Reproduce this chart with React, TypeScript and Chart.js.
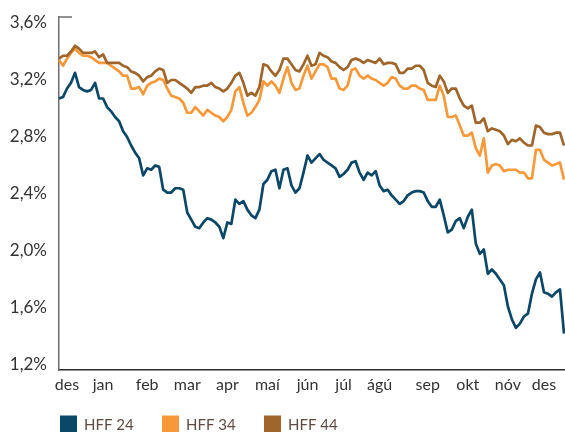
import React, { useEffect, useRef } from 'react';
import { Chart, registerables } from 'chart.js';

Chart.register(...registerables);

const seriesNames = ['HFF 24', 'HFF 34', 'HFF 44'];
const seriesColors = ['#0b4767', '#f7993a', '#a0652b'];

const monthLabels = ['des', 'jan', 'feb', 'mar', 'apr', 'maí', 'jún', 'júl', 'ágú', 'sep', 'okt', 'nóv', 'des'];
const monthIndex = [2, 11, 22, 32, 42, 52, 62, 71, 80, 92, 102, 112, 121];
const yTicks = [1.2, 1.6, 2.0, 2.4, 2.8, 3.2, 3.6];

const hff24 = [
  3.07, 3.08, 3.14, 3.18, 3.25, 3.15, 3.13, 3.12, 3.13, 3.18,
  3.07, 3.07, 3.01, 2.98, 2.94, 2.91, 2.84, 2.80, 2.74, 2.69,
  2.65, 2.53, 2.58, 2.57, 2.60, 2.59, 2.43, 2.41, 2.41, 2.44,
  2.44, 2.43, 2.27, 2.22, 2.17, 2.16, 2.20, 2.23, 2.22, 2.20,
  2.17, 2.09, 2.20, 2.19, 2.36, 2.33, 2.35, 2.29, 2.25, 2.23,
  2.29, 2.47, 2.50, 2.56, 2.57, 2.44, 2.57, 2.58, 2.46, 2.41,
  2.44, 2.55, 2.67, 2.62, 2.65, 2.68, 2.64, 2.62, 2.60, 2.58,
  2.52, 2.54, 2.57, 2.62, 2.63, 2.55, 2.50, 2.55, 2.53, 2.56,
  2.46, 2.42, 2.43, 2.39, 2.36, 2.33, 2.35, 2.39, 2.41, 2.42,
  2.42, 2.41, 2.35, 2.31, 2.31, 2.36, 2.25, 2.13, 2.15, 2.21,
  2.23, 2.16, 2.24, 2.29, 2.05, 1.98, 2.01, 1.84, 1.87, 1.84,
  1.80, 1.76, 1.61, 1.52, 1.46, 1.49, 1.54, 1.56, 1.70, 1.80,
  1.85, 1.71, 1.70, 1.68, 1.71, 1.73, 1.42,
];

const hff34 = [
  3.34, 3.30, 3.35, 3.39, 3.42, 3.39, 3.37, 3.37, 3.36, 3.34,
  3.32, 3.32, 3.32, 3.30, 3.28, 3.26, 3.23, 3.23, 3.14, 3.14,
  3.15, 3.10, 3.16, 3.18, 3.19, 3.21, 3.20, 3.14, 3.09, 3.08,
  3.07, 3.04, 2.97, 2.97, 3.01, 2.98, 2.95, 2.99, 2.97, 2.95,
  2.94, 2.91, 2.94, 2.99, 3.12, 3.15, 3.04, 2.95, 2.97, 3.01,
  3.06, 3.19, 3.16, 3.19, 3.16, 3.11, 3.21, 3.29, 3.18, 3.13,
  3.14, 3.23, 3.30, 3.21, 3.26, 3.31, 3.31, 3.29, 3.21, 3.21,
  3.14, 3.13, 3.16, 3.27, 3.28, 3.23, 3.21, 3.23, 3.21, 3.20,
  3.18, 3.16, 3.18, 3.22, 3.21, 3.16, 3.14, 3.14, 3.16, 3.16,
  3.14, 3.13, 3.06, 3.06, 3.06, 3.16, 3.09, 2.94, 2.94, 2.95,
  2.88, 2.81, 2.81, 2.83, 2.72, 2.67, 2.79, 2.55, 2.60, 2.61,
  2.60, 2.56, 2.57, 2.57, 2.57, 2.55, 2.55, 2.51, 2.51, 2.71,
  2.71, 2.64, 2.62, 2.60, 2.61, 2.62, 2.50,
];

const hff44 = [
  3.35, 3.37, 3.37, 3.40, 3.44, 3.42, 3.39, 3.39, 3.39, 3.40,
  3.36, 3.38, 3.32, 3.32, 3.32, 3.32, 3.30, 3.29, 3.26, 3.25,
  3.23, 3.19, 3.22, 3.23, 3.26, 3.28, 3.27, 3.18, 3.20, 3.20,
  3.18, 3.16, 3.14, 3.11, 3.15, 3.15, 3.16, 3.16, 3.18, 3.15,
  3.14, 3.12, 3.14, 3.18, 3.23, 3.25, 3.18, 3.09, 3.11, 3.09,
  3.15, 3.31, 3.30, 3.26, 3.23, 3.27, 3.35, 3.35, 3.31, 3.27,
  3.26, 3.31, 3.37, 3.30, 3.31, 3.39, 3.37, 3.36, 3.33, 3.32,
  3.29, 3.27, 3.29, 3.34, 3.35, 3.34, 3.32, 3.34, 3.33, 3.32,
  3.35, 3.31, 3.32, 3.32, 3.31, 3.25, 3.25, 3.28, 3.28, 3.30,
  3.30, 3.27, 3.18, 3.16, 3.15, 3.23, 3.19, 3.11, 3.14, 3.14,
  3.07, 3.02, 3.00, 3.02, 2.90, 2.90, 2.93, 2.84, 2.86, 2.85,
  2.84, 2.81, 2.75, 2.78, 2.77, 2.79, 2.76, 2.74, 2.74, 2.88,
  2.87, 2.83, 2.82, 2.82, 2.83, 2.83, 2.74,
];

const categories: string[] = hff24.map(() => '');
monthIndex.forEach((idx, i) => {
  categories[idx] = monthLabels[i];
});

const extrasPlugin = {
  id: 'extras',
  afterDraw(chart: any) {
    const { ctx, chartArea } = chart;
    ctx.save();
    // short tick at top of the value axis
    ctx.strokeStyle = '#6f6f6f';
    ctx.lineWidth = 1.5;
    ctx.beginPath();
    ctx.moveTo(chartArea.left, chartArea.top);
    ctx.lineTo(chartArea.left + 13, chartArea.top);
    ctx.stroke();

    // legend
    ctx.font = '15px Lato';
    ctx.textBaseline = 'middle';
    ctx.textAlign = 'left';
    const yMid = chart.height - 8;
    chart.data.datasets.forEach((ds: any, i: number) => {
      const x = chartArea.left + 1 + i * 102;
      ctx.fillStyle = ds.borderColor;
      ctx.fillRect(x, yMid - 8.5, 17, 17);
      ctx.fillStyle = '#5e4b43';
      ctx.fillText(ds.label, x + 24, yMid + 1);
    });
    ctx.restore();
  },
};

export default function App() {
  const canvasRef = useRef<HTMLCanvasElement | null>(null);

  useEffect(() => {
    if (!canvasRef.current) return;
    const data = [hff24, hff34, hff44];
    const chart = new Chart(canvasRef.current, {
      type: 'line',
      data: {
        labels: categories,
        datasets: data.map((d, i) => ({
          label: seriesNames[i],
          data: d,
          borderColor: seriesColors[i],
          backgroundColor: seriesColors[i],
          borderWidth: 2.7,
          pointRadius: 0,
          tension: 0,
          borderJoinStyle: 'round' as const,
          order: 3 - i,
        })),
      },
      options: {
        animation: false,
        responsive: false,
        devicePixelRatio: 1,
        layout: { padding: { top: 17, bottom: 32, left: 0, right: 1 } },
        plugins: {
          legend: { display: false },
          tooltip: { enabled: false },
        },
        scales: {
          x: {
            type: 'category',
            offset: false,
            grid: { display: false, drawTicks: false },
            border: { display: true, color: '#2b2b2b', width: 1.5 },
            ticks: {
              autoSkip: false,
              maxRotation: 0,
              minRotation: 0,
              padding: 5,
              color: '#333333',
              font: { family: 'Lato', size: 16 },
            },
            afterBuildTicks: (axis: any) => {
              axis.ticks = axis.ticks.filter((t: any) => categories[t.value] !== '');
            },
            afterFit: (s: any) => {
              s.height = 30;
              s.paddingLeft = 0;
              s.paddingRight = 0;
            },
          },
          y: {
            type: 'linear',
            min: 1.1645,
            max: 3.642,
            grid: { display: false, drawTicks: false },
            border: { display: true, color: '#6f6f6f', width: 1.5 },
            ticks: {
              padding: 12,
              color: '#333333',
              font: { family: 'Lato', size: 17 },
              callback: (v: any) => Number(v).toFixed(1).replace('.', ',') + '%',
            },
            afterBuildTicks: (axis: any) => {
              axis.ticks = yTicks.map((v) => ({ value: v }));
            },
            afterFit: (s: any) => {
              s.width = 59;
              s.paddingTop = 0;
              s.paddingBottom = 0;
            },
          },
        },
      },
      plugins: [extrasPlugin],
    });
    return () => chart.destroy();
  }, []);

  return (
    <div style={{ position: 'absolute', left: 0, top: 0, width: 565, height: 432, background: '#fff' }}>
      <canvas ref={canvasRef} width={565} height={432} />
    </div>
  );
}
